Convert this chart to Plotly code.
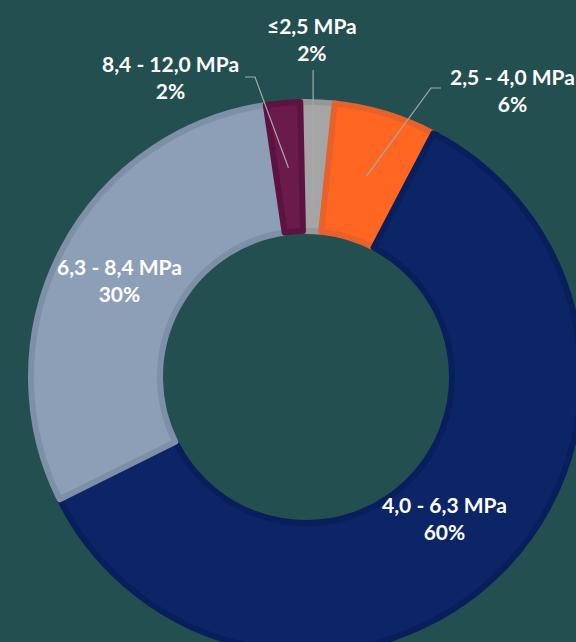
import math
import plotly.graph_objects as go

# ---- data ----
labels = ["≤2,5 MPa", "2,5 - 4,0 MPa", "4,0 - 6,3 MPa", "6,3 - 8,4 MPa", "8,4 - 12,0 MPa"]
values = [2, 6, 60, 30, 2]
fill_colors = ["#A5A5A5", "#FF6622", "#0B2567", "#8D9EB7", "#6A1A4B"]
edge_colors = ["#979797", "#E8612B", "#081F5B", "#7E8FA8", "#5C1341"]
inside_labels = ["4,0 - 6,3 MPa", "6,3 - 8,4 MPa"]

# ---- layout geometry (pixels) ----
W, H = 600, 680
CX, CY, R = 306, 377, 275
HOLE_R = 146
ROT = -1.2
BG = "#244F51"
FONT = "Lato"
FSIZE = 21

dom_x = [(CX - R) / W, (CX + R) / W]
dom_y = [1 - (CY + R) / H, 1 - (CY - R) / H]

fig = go.Figure()
fig.add_trace(go.Pie(
    labels=labels,
    values=values,
    sort=False,
    direction="clockwise",
    rotation=ROT,
    hole=HOLE_R / R,
    domain=dict(x=dom_x, y=dom_y),
    marker=dict(colors=fill_colors, line=dict(color=edge_colors, width=6)),
    textinfo="none",
    showlegend=False,
    hoverinfo="label+percent",
))

# ---- slice mid-angles from the data ----
total = sum(values)
cum = 0
mid_angle = {}
for l, v in zip(labels, values):
    a0 = ROT + 360 * cum / total
    a1 = ROT + 360 * (cum + v) / total
    mid_angle[l] = (a0 + a1) / 2
    cum += v
pct = {l: v / total for l, v in zip(labels, values)}


def px_to_paper(x, y):
    return x / W, 1 - y / H


def polar_px(label, r):
    ang = math.radians(mid_angle[label])
    return CX + r * math.sin(ang), CY - r * math.cos(ang)


def add_label(label, xy):
    ax_, ay_ = px_to_paper(*xy)
    fig.add_annotation(x=ax_, y=ay_, xref="paper", yref="paper",
                       text=f"{label}<br>{pct[label]*100:.0f}%", showarrow=False,
                       xanchor="center", yanchor="middle",
                       font=dict(family=FONT, size=FSIZE, color="white", weight="bold"))


# inside labels: centred on the slice's mid-angle in the ring
inside_r = {"4,0 - 6,3 MPa": 198, "6,3 - 8,4 MPa": 210}
for l in inside_labels:
    add_label(l, polar_px(l, inside_r[l]))

# outside labels with leader lines
outside = {
    # label: (text center px, tip radius px, elbow points px)
    "≤2,5 MPa": ((312, 39), 170, "vertical"),
    "2,5 - 4,0 MPa": ((512, 90), 210, [(441, 88), (431, 88)]),
    "8,4 - 12,0 MPa": ((170, 77), 210, [(245, 77), (255, 77)]),
}
for l, (tc, tr, elbow) in outside.items():
    tx, ty = polar_px(l, tr)
    if elbow == "vertical":
        pts = [(tx, 70), (tx, ty)]
    else:
        pts = list(elbow) + [(tx, ty)]
    path = ""
    for i, (x, y) in enumerate(pts):
        px, py = px_to_paper(x, y)
        path += ("M " if i == 0 else " L ") + f"{px:.5f} {py:.5f}"
    fig.add_shape(type="path", path=path, xref="paper", yref="paper",
                  line=dict(color="#A9A9A9", width=1.2))
    add_label(l, tc)

fig.update_layout(
    width=W, height=H,
    margin=dict(l=0, r=0, t=0, b=0),
    paper_bgcolor=BG, plot_bgcolor=BG,
)

fig.write_html(
    "out.html",
    config={"displayModeBar": False},
    post_script="document.documentElement.style.overflow='hidden';document.body.style.overflow='hidden';document.body.style.margin='0';",
)
